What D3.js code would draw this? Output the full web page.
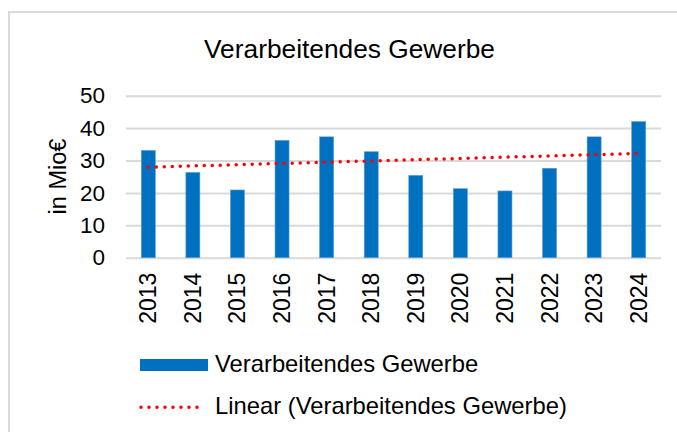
<!DOCTYPE html>
<html>
<head>
<meta charset="utf-8">
<script src="https://cdn.jsdelivr.net/npm/d3@7"></script>
<style>
 body { margin: 0; background: #fff; }
 text { font-family: "Liberation Sans", Arial, sans-serif; fill: #000; }
</style>
</head>
<body>
<svg id="chart" width="677" height="432"></svg>
<script>
 const years = ['2013', '2014', '2015', '2016', '2017', '2018', '2019', '2020', '2021', '2022', '2023', '2024'];
 const values = [33.1, 26.3, 20.9, 36.2, 37.3, 32.7, 25.4, 21.3, 20.6, 27.6, 37.3, 42.0];
 const yTicks = [0, 10, 20, 30, 40, 50];
 const title = 'Verarbeitendes Gewerbe';
 const yLabel = 'in Mio€';
 const legendLabels = ['Verarbeitendes Gewerbe', 'Linear (Verarbeitendes Gewerbe)'];

 const blue = '#0070c0';
 const red = '#ff0000';
 const grid = '#d9d9d9';

 const svg = d3.select('#chart');

 // chart frame (runs off right/bottom edge)
 svg.append('rect')
    .attr('x', 9).attr('y', 12)
    .attr('width', 700).attr('height', 460)
    .attr('fill', '#fff')
    .attr('stroke', grid)
    .attr('stroke-width', 2);

 const x = d3.scaleBand()
             .domain(years)
             .range([126, 661])
             .paddingInner(0.686)
             .paddingOuter(0.343);

 const y = d3.scaleLinear()
             .domain([0, 50])
             .range([257.7, 95.7]);

 // gridlines + y labels
 const yAxis = svg.append('g')
                  .attr('transform', 'translate(126,0)')
                  .call(d3.axisLeft(y).tickValues(yTicks).tickSize(-535).tickPadding(21));
 yAxis.select('.domain').remove();
 yAxis.selectAll('.tick line').attr('stroke', grid).attr('stroke-width', 2);
 yAxis.selectAll('.tick text')
      .style('font-family', '"Liberation Sans", Arial, sans-serif')
      .attr('font-size', 22.5)
      .attr('fill', '#000');

 // bars
 svg.append('g')
    .selectAll('rect')
    .data(values)
    .join('rect')
    .attr('x', (d, i) => x(years[i]))
    .attr('y', d => y(d))
    .attr('width', x.bandwidth())
    .attr('height', d => y(0) - y(d))
    .attr('fill', blue)
    .attr('stroke', '#5b9bd5')
    .attr('stroke-width', 0.6);

 // x axis labels
 const xAxis = svg.append('g')
                  .attr('transform', `translate(0,${y(0)})`)
                  .call(d3.axisBottom(x).tickSize(0).tickPadding(0));
 xAxis.select('.domain').remove();
 xAxis.selectAll('.tick text')
      .style('font-family', '"Liberation Sans", Arial, sans-serif')
      .attr('font-size', 23)
      .attr('fill', '#000')
      .attr('text-anchor', 'end')
      .attr('dy', null)
      .attr('transform', 'translate(8,15) rotate(-90)');

 // linear trendline (least squares over the bars)
 const xs = values.map((d, i) => i);
 const mx = d3.mean(xs), my = d3.mean(values);
 const slope = d3.sum(xs, (v, i) => (v - mx) * (values[i] - my)) / d3.sum(xs, v => (v - mx) * (v - mx));
 const icpt = my - slope * mx;
 const trend = [0, years.length - 1].map(i => [x(years[i]) + x.bandwidth() / 2, y(icpt + slope * i)]);

 svg.append('path')
    .attr('d', d3.line()(trend))
    .attr('fill', 'none')
    .attr('stroke', red)
    .attr('stroke-width', 3.5)
    .attr('stroke-linecap', 'round')
    .attr('stroke-dasharray', '0 8');

 // title
 svg.append('text')
    .attr('x', 349.5).attr('y', 57.5)
    .attr('text-anchor', 'middle')
    .attr('font-size', 26.3)
    .text(title);

 // y axis title
 svg.append('text')
    .attr('transform', 'translate(66,176.5) rotate(-90)')
    .attr('text-anchor', 'middle')
    .attr('font-size', 23.5)
    .text(yLabel);

 // legend
 const legend = svg.append('g');
 legend.append('rect')
       .attr('x', 140).attr('y', 359)
       .attr('width', 68).attr('height', 12)
       .attr('fill', blue);
 legend.append('text')
       .attr('x', 215).attr('y', 371.5)
       .attr('font-size', 23.8)
       .text(legendLabels[0]);
 legend.append('line')
       .attr('x1', 141).attr('x2', 199)
       .attr('y1', 407.3).attr('y2', 407.3)
       .attr('stroke', red)
       .attr('stroke-width', 3.5)
       .attr('stroke-linecap', 'round')
       .attr('stroke-dasharray', '0 8');
 legend.append('text')
       .attr('x', 215).attr('y', 413.5)
       .attr('font-size', 23.8)
       .text(legendLabels[1]);
</script>
</body>
</html>
